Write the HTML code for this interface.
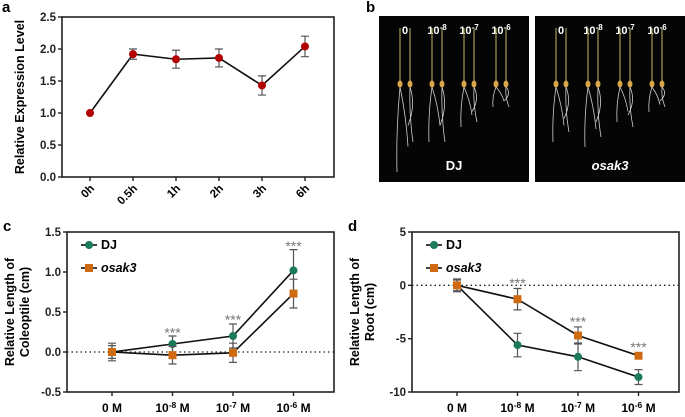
<!DOCTYPE html>
<html><head><meta charset="utf-8"><style>
html,body{margin:0;padding:0;background:#fff}
svg{display:block;font-family:"Liberation Sans",Arial,sans-serif}
</style></head><body>
<svg id="fig" width="685" height="417" viewBox="0 0 685 417" xmlns="http://www.w3.org/2000/svg">
<g id="pa"></g>
<g id="pb"></g>
<g id="pc"></g>
<g id="pd"></g>
</svg>
<script>
// Panel a data
const aCats = ["0h","0.5h","1h","2h","3h","6h"];
const aVals = [1.0,1.92,1.84,1.86,1.43,2.04];
const aErr  = [0,0.08,0.14,0.14,0.15,0.16];
const aTicks = [0,0.5,1.0,1.5,2.0,2.5];
// Panel c data
const cCats = ["0 M","10-8","10-7","10-6"];
const cDJ = [0,0.10,0.20,1.02];
const cDJErr = [0.11,0.10,0.15,0.26];
const cOs = [0,-0.04,-0.01,0.73];
const cOsErr = [0.08,0.11,0.12,0.18];
const cTicks = [-0.5,0,0.5,1.0,1.5];
const cTickLabels = ["-0.5","0.0","0.5","1.0","1.5"];
const cStars = [null,0.27,0.43,1.35];
// Panel d data
const dDJ = [0,-5.6,-6.7,-8.6];
const dDJErr = [0.6,1.1,1.3,0.7];
const dOs = [0,-1.3,-4.7,-6.6];
const dOsErr = [0.5,1.0,0.8,0.2];
const dTicks = [-10,-5,0,5];
const dStars = [null,0.4,-3.2,-5.6];

const NS="http://www.w3.org/2000/svg";
function mk(p,tag,at,txt){const e=document.createElementNS(NS,tag);for(const k in at)e.setAttribute(k,at[k]);if(txt!==undefined)e.textContent=txt;p.appendChild(e);return e;}
const green="#1b7a5a", orange="#d06a10", red="#b30000";

function axes(g,x0,x1,y0,y1,ticks,labels,ysc){
  const b=mk(g,'rect',{x:x0,y:y0,width:x1-x0,height:y1-y0,fill:'none',stroke:'#222','stroke-width':1.6});
  
  
  ticks.forEach((t,i)=>{const y=ysc(t);
    mk(g,'line',{x1:x0-4,x2:x0,y1:y,y2:y,stroke:'#222','stroke-width':1.4});
    const tl=mk(g,'text',{x:x0-6,y:y+4,'text-anchor':'end','font-size':11.5,'font-weight':'bold',fill:'#222'},labels[i]);
    
    
  });
}
function series(g,xs,vals,errs,ysc,color,shape,name){
  let d='';vals.forEach((v,i)=>{d+=(i?'L':'M')+xs[i]+' '+ysc(v);});
  const l=mk(g,'path',{d:d,fill:'none',stroke:'#111','stroke-width':1.6});
  
  
  vals.forEach((v,i)=>{const x=xs[i],e=errs[i];
    if(e>0){mk(g,'path',{d:`M${x} ${ysc(v+e)}V${ysc(v-e)}M${x-4} ${ysc(v+e)}h8M${x-4} ${ysc(v-e)}h8`,stroke:'#555','stroke-width':1.2,fill:'none'});}
    let m;
    if(shape==='c')m=mk(g,'circle',{cx:x,cy:ysc(v),r:4,fill:color});
    else m=mk(g,'rect',{x:x-4,y:ysc(v)-4,width:8,height:8,fill:color});
    
    
  });
}
// Panel a
(function(){
  const g=document.getElementById('pa');
  mk(g,'text',{x:2,y:12,'font-size':15,'font-weight':'bold'},'a');
  const x0=62,x1=334,y0=17,y1=177;
  const ysc=v=>y1-(v/2.5)*(y1-y0);
  axes(g,x0,x1,y0,y1,aTicks,aTicks.map(t=>t.toFixed(1)),ysc);
  const xs=aCats.map((c,i)=>90+i*43);
  xs.forEach((x,i)=>{mk(g,'line',{x1:x,x2:x,y1:y1,y2:y1+4,stroke:'#222','stroke-width':1.4});
    const t=mk(g,'text',{x:x+5,y:y1+12,'text-anchor':'end','font-size':11.5,'font-weight':'bold',transform:`rotate(-45 ${x+5} ${y1+12})`},aCats[i]);
    
    });
  series(g,xs,aVals,aErr,ysc,red,'c','expression');
  const yt=mk(g,'text',{x:24,y:97,'text-anchor':'middle','font-size':12.5,'font-weight':'bold',transform:'rotate(-90 24 97)'},'Relative Expression Level');
  
  
})();
// Panel b photos
(function(){
  const g=document.getElementById('pb');
  mk(g,'text',{x:366,y:12,'font-size':15,'font-weight':'bold'},'b');
  [[379,150,'DJ',false],[535,150,'osak3',true]].forEach(([x,w,lab,it],k)=>{
    const r=mk(g,'rect',{x:x,y:16,width:w,height:166,fill:'#050505'});
    
    
    const conc=[['0',''],['10','-8'],['10','-7'],['10','-6']];
    const lens=k?[[55,45],[60,50],[35,40],[25,20]]:[[85,55],[55,55],[40,35],[20,20]];
    conc.forEach((c,i)=>{const cx=x+26+i*32;
      const t=mk(g,'text',{x:cx,y:34,'text-anchor':'middle','font-size':11,'font-weight':'bold',fill:'#fff'},c[0]);
      if(c[1])mk(t,'tspan',{dy:-4,'font-size':8},c[1]);
      [-5,5].forEach((o,j)=>{const sx=cx+o;
        mk(g,'line',{x1:sx,x2:sx,y1:28,y2:82,stroke:'#a59a55','stroke-width':1.2});
        mk(g,'ellipse',{cx:sx,cy:84,rx:2.5,ry:3.5,fill:'#d9a548'});
        const L=lens[i][j];
        mk(g,'path',{d:`M${sx} 87 q${-4+j*3} ${L/2} ${o*0.6} ${L}M${sx} 87 q${6} ${L/3} ${3-o} ${L*0.7}`,stroke:'#cfcfcf','stroke-width':0.8,fill:'none'});
      });
    });
    mk(g,'text',{x:x+75,y:170,'text-anchor':'middle','font-size':13,'font-weight':'bold',fill:'#fff','font-style':it?'italic':'normal'},lab);
  });
})();
function lowerPanel(id,letter,x0,ymin,ymax,ticks,labels,dj,djE,os,osE,stars,title1,title2){
  const g=document.getElementById(id);
  mk(g,'text',{x:x0-64,y:231,'font-size':15,'font-weight':'bold'},letter);
  const x1=x0+267,y0=232,y1=392;
  const ysc=v=>y1-(v-ymin)/(ymax-ymin)*(y1-y0);
  axes(g,x0,x1,y0,y1,ticks,labels,ysc);
  mk(g,'line',{x1:x0,x2:x1,y1:ysc(0),y2:ysc(0),stroke:'#222','stroke-width':1.3,'stroke-dasharray':'1.5 3'});
  const xs=cCats.map((c,i)=>x0+45+i*60.5);
  xs.forEach((x,i)=>{mk(g,'line',{x1:x,x2:x,y1:y1,y2:y1+4,stroke:'#222','stroke-width':1.4});
    const t=mk(g,'text',{x:x,y:412,'text-anchor':'middle','font-size':12,'font-weight':'bold'},i?'10':'0 M');
    if(i){mk(t,'tspan',{dy:-4,'font-size':8.5},cCats[i].slice(2));mk(t,'tspan',{dy:4},' M');}
    
    });
  series(g,xs,dj,djE,ysc,green,'c','dj');
  series(g,xs,os,osE,ysc,orange,'s','osak3');
  stars.forEach((s,i)=>{if(s===null)return;
    const st=mk(g,'text',{x:xs[i],y:ysc(s)+7,'text-anchor':'middle','font-size':14,fill:'#777'},'***');
    
    });
  // legend
  const lg=mk(g,'g',{});
  
  
  mk(lg,'line',{x1:x0+14,x2:x0+30,y1:245,y2:245,stroke:'#111','stroke-width':1.6});
  mk(lg,'circle',{cx:x0+22,cy:245,r:4,fill:green});
  mk(lg,'text',{x:x0+34,y:249,'font-size':12.5,'font-weight':'bold'},'DJ');
  mk(lg,'line',{x1:x0+14,x2:x0+30,y1:268,y2:268,stroke:'#111','stroke-width':1.6});
  mk(lg,'rect',{x:x0+18,y:264,width:8,height:8,fill:orange});
  mk(lg,'text',{x:x0+34,y:272,'font-size':12.5,'font-weight':'bold','font-style':'italic'},'osak3');
  const tx=x0-46;
  const t=mk(g,'text',{'font-size':12.5,'font-weight':'bold','text-anchor':'middle',transform:`translate(${tx} 312) rotate(-90)`});
  mk(t,'tspan',{x:0,y:-7},title1);mk(t,'tspan',{x:0,y:8},title2);
  
  
}
lowerPanel('pc','c',67,-0.5,1.5,cTicks,cTickLabels,cDJ,cDJErr,cOs,cOsErr,cStars,'Relative Length of','Coleoptile (cm)');
lowerPanel('pd','d',412,-10,5,dTicks,dTicks.map(String),dDJ,dDJErr,dOs,dOsErr,dStars,'Relative Length of','Root (cm)');
</script>
</body></html>
